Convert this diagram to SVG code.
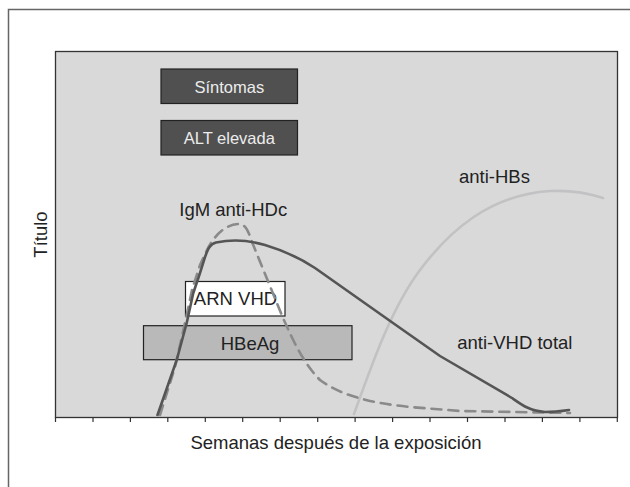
<svg xmlns="http://www.w3.org/2000/svg" width="630" height="487" viewBox="0 0 630 487">
<style>
text{font-family:"Liberation Sans",Arial,sans-serif;fill:#222}
.lbl{font-size:18.5px}
.dk rect{fill:#505050;stroke:#222;stroke-width:1.2}
.dk text{font-size:16.5px;fill:#ececec;text-anchor:middle}
.tick{stroke:#333;stroke-width:1.2}
.c{fill:none;stroke-width:2.6;stroke-linejoin:round;stroke-linecap:round}
</style>
<rect width="630" height="487" fill="#fff"/>
<path d="M8.5,487 V9.5 H630" fill="none" stroke="#666" stroke-width="1.5"/>
<rect id="plot" x="55.5" y="51.5" width="562" height="366" fill="#d9d9d9" stroke="#333" stroke-width="1.3"/>
<g id="ticks" class="tick">
<path d="M55.5,417 v5 M93,417 v5 M130.4,417 v5 M167.8,417 v5 M205.3,417 v5 M242.7,417 v5 M280.2,417 v5 M317.7,417 v5 M355.1,417 v5 M392.6,417 v5 M430,417 v5 M467.5,417 v5 M505,417 v5 M542.4,417 v5 M579.9,417 v5 M617.3,417 v5"/>
</g>
<g id="sintomas" class="dk"><rect x="161" y="69" width="136.5" height="34.5"/><text x="229.3" y="93.3">Síntomas</text></g>
<g id="alt" class="dk"><rect x="161" y="120.5" width="136.5" height="34.5"/><text x="229.3" y="143.5">ALT elevada</text></g>
<g id="arn"><rect x="185.5" y="281.5" width="99.5" height="34.5" fill="#fff" stroke="#222" stroke-width="1.2"/><text class="lbl" x="235.5" y="305" text-anchor="middle">ARN VHD</text></g>
<g id="hbeag"><rect x="143.5" y="325.7" width="208.5" height="34" fill="#b9b9b9" stroke="#222" stroke-width="1.2"/><text class="lbl" x="250" y="350" text-anchor="middle">HBeAg</text></g>
<g id="connectors">
<path id="antiHBs" class="c" stroke="#c2c2c4" d="M354,414 C370,370 390,310 420,270 C450,230 490,195 550,191 C575,190 590,194 603,198"/>
<path id="igm" class="c" stroke="#8a8a8a" stroke-dasharray="10,7" d="M160,415 L175,367 L185,323 L192,290 L200,265 L207,250 C212,240 218,233 224,229 C230,225 235,224 239,224 C245,224 248,230 252,242 L283,318 C295,345 305,365 320,380 C340,395 370,403 410,407 L460,411 L570,413"/>
<path id="total" class="c" stroke="#555" d="M157.5,415 L176.7,360 L186.7,323 L193.3,293 L200,273 L205,257 C208,249 210,244 216,242.5 C226,240.5 245,239 265,245 C285,251 300,258 315,268 L393,323 L440,356 L512,398 C522,405 530,411 545,412 C555,412 562,411 569,410"/>
</g>
<g id="labels">
<text class="lbl" x="179.3" y="216">IgM anti-HDc</text>
<text class="lbl" x="459" y="182.7">anti-HBs</text>
<text class="lbl" x="457.3" y="349">anti-VHD total</text>
<text class="lbl" x="336" y="449" text-anchor="middle">Semanas después de la exposición</text>
<text class="lbl" transform="translate(46.7,234.5) rotate(-90)" text-anchor="middle">Título</text>
</g>
</svg>
